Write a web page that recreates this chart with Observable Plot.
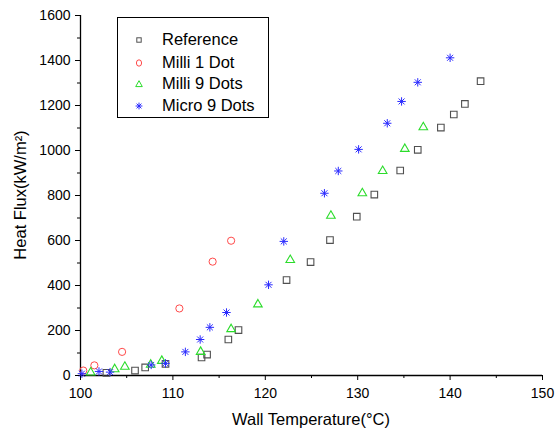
<!DOCTYPE html>
<html>
<head>
<meta charset="utf-8">
<script src="https://cdn.jsdelivr.net/npm/d3@7"></script>
<script src="https://cdn.jsdelivr.net/npm/@observablehq/plot@0.6"></script>
<style>
  html, body { margin: 0; padding: 0; background: #fff; }
  #wrap { position: relative; width: 555px; height: 434px; font-family: "Liberation Sans", Arial, sans-serif; color: #000; }
  #wrap svg { display: block; }
  .title { position: absolute; font-size: 16.5px; white-space: nowrap; line-height: 1; }
  #legend { position: absolute; left: 117px; top: 17px; width: 150px; height: 99px; border: 1px solid #000; background: #fff; }
  .lrow { position: absolute; left: 0; height: 20px; width: 150px; }
  .lrow svg { position: absolute; left: 13px; top: 3px; }
  .lrow span { position: absolute; left: 44px; top: 2px; font-size: 16.5px; line-height: 1; white-space: nowrap; }
</style>
</head>
<body>
<div id="wrap"></div>
<script>
// ---- data ----
const seriesNames = ["Reference", "Milli 1 Dot", "Milli 9 Dots", "Micro 9 Dots"];

const refTemp = [102.8, 105.9, 107.0, 109.2, 113.1, 113.7, 116.0, 117.1, 122.3, 124.9, 127.0, 129.9, 131.8, 134.6, 136.5, 139.0, 140.4, 141.6, 143.3];
const refFlux = [12, 22, 36, 52, 80, 93, 160, 202, 424, 504, 602, 706, 804, 911, 1003, 1102, 1160, 1207, 1308];

const milli1Temp = [100.3, 101.5, 104.5, 110.7, 114.3, 116.3];
const milli1Flux = [22, 45, 105, 298, 506, 599];

const milli9Temp = [101.1, 103.7, 104.8, 107.6, 108.8, 113.0, 116.3, 119.2, 122.7, 127.1, 130.5, 132.7, 135.1, 137.1];
const milli9Flux = [13, 28, 39, 48, 65, 105, 206, 316, 513, 710, 810, 909, 1007, 1103];

const micro9Temp = [100.15, 102.0, 103.2, 107.65, 109.2, 111.35, 112.95, 114.0, 115.8, 120.35, 122.0, 126.4, 127.9, 130.1, 133.2, 134.75, 136.5, 140.0];
const micro9Flux = [8, 18, 15, 47, 54, 105, 160, 214, 280, 403, 596, 810, 909, 1005, 1121, 1218, 1303, 1412];

const xTicks = [100, 110, 120, 130, 140, 150];
const xMinorTicks = [105, 115, 125, 135, 145];
const yTicks = [0, 200, 400, 600, 800, 1000, 1200, 1400, 1600];
const yMinorTicks = [100, 300, 500, 700, 900, 1100, 1300, 1500];

const xLabel = "Wall Temperature(°C)";
const yLabel = "Heat Flux(kW/m²)";

// ---- build ----
const toRows = (xs, ys) => xs.map((x, i) => ({x, y: ys[i]}));
const refRows = toRows(refTemp, refFlux);
const m1Rows = toRows(milli1Temp, milli1Flux);
const m9Rows = toRows(milli9Temp, milli9Flux);
const u9Rows = toRows(micro9Temp, micro9Flux);

const star8 = {
  draw(ctx, size) {
    const r = Math.sqrt(size / Math.PI);
    const d = r * Math.SQRT1_2;
    ctx.moveTo(-r, 0); ctx.lineTo(r, 0);
    ctx.moveTo(0, -r); ctx.lineTo(0, r);
    ctx.moveTo(-d, -d); ctx.lineTo(d, d);
    ctx.moveTo(-d, d); ctx.lineTo(d, -d);
  }
};

const colors = {ref: "#505050", m1: "#ff4a4a", m9: "#2bdc2b", u9: "#2a2aff"};

const chart = Plot.plot({
  width: 555,
  height: 434,
  marginLeft: 80,
  marginRight: 13,
  marginTop: 15,
  marginBottom: 59,
  style: {fontFamily: "'Liberation Sans', Arial, sans-serif", fontSize: "14px", background: "#fff", color: "#000", overflow: "visible"},
  x: {domain: [100, 150]},
  y: {domain: [0, 1600]},
  marks: [
    Plot.axisX(xTicks, {tickSize: 5, tickPadding: 8, label: null, fontSize: 14}),
    Plot.axisX(xMinorTicks, {tickSize: 3, text: null, label: null}),
    Plot.axisY(yTicks, {tickSize: 5, tickPadding: 5, label: null, fontSize: 14, tickFormat: "d"}),
    Plot.axisY(yMinorTicks, {tickSize: 3, text: null, label: null}),
    Plot.ruleY([0], {stroke: "#000", strokeWidth: 1.3}),
    Plot.ruleX([100], {stroke: "#000", strokeWidth: 1.3}),
    Plot.dot(refRows, {x: "x", y: "y", symbol: "square", r: 3.7, fill: "none", stroke: colors.ref, strokeWidth: 1.1}),
    Plot.dot(m1Rows, {x: "x", y: "y", symbol: "circle", r: 3.6, fill: "none", stroke: colors.m1, strokeWidth: 1}),
    Plot.dot(m9Rows, {x: "x", y: "y", symbol: "triangle", r: 3.2, fill: "none", stroke: colors.m9, strokeWidth: 1.1}),
    Plot.dot(u9Rows, {x: "x", y: "y", symbol: star8, r: 4.2, fill: "none", stroke: colors.u9, strokeWidth: 1})
  ]
});

const wrap = document.getElementById("wrap");
wrap.appendChild(chart);

// axis titles
const xt = document.createElement("div");
xt.className = "title";
xt.textContent = xLabel;
xt.style.left = "80px"; xt.style.width = "462px"; xt.style.textAlign = "center"; xt.style.top = "411px";
wrap.appendChild(xt);

const yt = document.createElement("div");
yt.className = "title";
yt.textContent = yLabel;
yt.style.left = "20px"; yt.style.top = "195px";
yt.style.transform = "translate(-50%, -50%) rotate(-90deg)";
wrap.appendChild(yt);

// legend
const legend = document.createElement("div");
legend.id = "legend";
const symSvg = [
  `<svg width="16" height="16"><rect x="5.8" y="5.8" width="4.4" height="4.4" fill="none" stroke="${colors.ref}" stroke-width="1"/></svg>`,
  `<svg width="16" height="16"><ellipse cx="8" cy="8" rx="2.6" ry="3.2" fill="none" stroke="${colors.m1}" stroke-width="1"/></svg>`,
  `<svg width="16" height="16"><path d="M8,4.7L11.3,10.6L4.7,10.6Z" fill="none" stroke="${colors.m9}" stroke-width="1"/></svg>`,
  `<svg width="16" height="16"><path d="M4.6,8H11.4M8,4.6V11.4M5.6,5.6L10.4,10.4M5.6,10.4L10.4,5.6" fill="none" stroke="${colors.u9}" stroke-width="1"/></svg>`
];
const rowTops = [11, 33.5, 55, 77];
seriesNames.forEach((name, i) => {
  const row = document.createElement("div");
  row.className = "lrow";
  row.style.top = rowTops[i] + "px";
  row.innerHTML = symSvg[i] + `<span>${name}</span>`;
  legend.appendChild(row);
});
wrap.appendChild(legend);
</script>
</body>
</html>
